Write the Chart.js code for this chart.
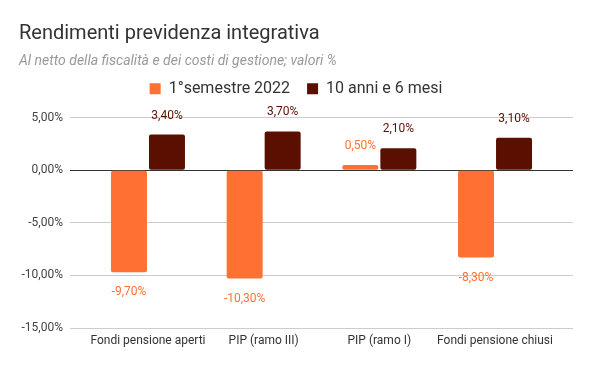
<!DOCTYPE html>
<html>
<head>
<meta charset="utf-8">
<script src="https://cdn.jsdelivr.net/npm/chart.js@4.4.0/dist/chart.umd.min.js"></script>
<style>
  html, body { margin: 0; padding: 0; background: #fff; }
  #wrap { width: 591px; height: 367px; }
</style>
</head>
<body>
<div id="wrap"><canvas id="chart" width="591" height="367"></canvas></div>
<script>
// Data
const categories = ['Fondi pensione aperti', 'PIP (ramo III)', 'PIP (ramo I)', 'Fondi pensione chiusi'];
const semestreValues = [-9.7, -10.3, 0.5, -8.3];
const decennioValues = [3.4, 3.7, 2.1, 3.1];
const seriesNames = ['1°semestre 2022', '10 anni e 6 mesi'];
const yTicks = [-15, -10, -5, 0, 5];

const orange = 'rgb(255, 112, 51)';
const darkRed = 'rgb(91, 15, 0)';

function fmt(v) {
    return v.toFixed(2).replace('.', ',') + '%';
}

// Draw value labels above / below the bars
const valueLabels = {
    id: 'valueLabels',
    afterDatasetsDraw(chart) {
        const ctx = chart.ctx;
        ctx.save();
        ctx.font = '12px Roboto';
        ctx.textAlign = 'center';
        ctx.textBaseline = 'middle';
        chart.data.datasets.forEach((ds, i) => {
            const meta = chart.getDatasetMeta(i);
            meta.data.forEach((bar, j) => {
                const v = ds.data[j].y;
                ctx.fillStyle = ds.labelColor;
                const y = v >= 0 ? bar.y - 19 : bar.y + 20;
                ctx.fillText(fmt(v), bar.x, y);
            });
        });
        ctx.restore();
    }
};

// Give the legend some extra space below it
const legendSpace = {
    id: 'legendSpace',
    beforeInit(chart) {
        const fit = chart.legend.fit;
        chart.legend.fit = function() {
            fit.bind(chart.legend)();
            this.height += 11;
        };
    }
};

const ctx = document.getElementById('chart').getContext('2d');
const chart = new Chart(ctx, {
    type: 'bar',
    data: {
        datasets: [{
            label: seriesNames[0],
            data: semestreValues.map((v, i) => ({ x: i, y: v })),
            backgroundColor: orange,
            labelColor: orange,
            borderRadius: 2,
            borderSkipped: false
        }, {
            label: seriesNames[1],
            data: decennioValues.map((v, i) => ({ x: i, y: v })),
            backgroundColor: darkRed,
            labelColor: darkRed,
            borderRadius: 2,
            borderSkipped: false
        }]
    },
    options: {
        responsive: false,
        animation: false,
        categoryPercentage: 0.657,
        barPercentage: 0.947,
        layout: {
            padding: { left: 19, right: 18, top: 0, bottom: 9 }
        },
        plugins: {
            tooltip: { enabled: false },
            title: {
                display: true,
                text: 'Rendimenti previdenza integrativa',
                align: 'start',
                color: '#333',
                font: { family: 'Roboto', size: 20, weight: 'normal' },
                padding: { top: 22, bottom: 7 }
            },
            subtitle: {
                display: true,
                text: 'Al netto della fiscalità e dei costi di gestione; valori %',
                align: 'start',
                color: '#999',
                font: { family: 'Roboto', size: 14, style: 'italic' },
                padding: { top: 0, bottom: -6 }
            },
            legend: {
                display: true,
                position: 'top',
                labels: {
                    boxWidth: 11,
                    boxHeight: 11,
                    padding: 17,
                    color: '#333',
                    font: { family: 'Roboto', size: 16 }
                }
            }
        },
        scales: {
            x: {
                type: 'linear',
                offset: false,
                min: -0.674,
                max: 3.674,
                afterBuildTicks: function(scale) {
                    scale.ticks = categories.map((c, i) => ({ value: i }));
                },
                afterFit: function(scale) {
                    scale.height = 30;
                },
                grid: { display: false, drawTicks: false },
                border: { display: false },
                ticks: {
                    autoSkip: false,
                    maxRotation: 0,
                    padding: 6,
                    color: '#333',
                    font: { family: 'Roboto', size: 12 },
                    callback: function(value) { return categories[value]; }
                }
            },
            y: {
                min: -15,
                max: 5,
                afterBuildTicks: function(scale) {
                    scale.ticks = yTicks.map(v => ({ value: v }));
                },
                afterFit: function(scale) {
                    scale.width = 51;
                },
                grid: {
                    drawTicks: false,
                    color: ctx => ctx.tick && ctx.tick.value === 0 ? '#333' : '#ccc'
                },
                border: { display: false },
                ticks: {
                    padding: 7,
                    color: '#444',
                    font: { family: 'Roboto', size: 12 },
                    callback: function(value) { return fmt(value); }
                }
            }
        }
    },
    plugins: [valueLabels, legendSpace]
});
</script>
</body>
</html>
